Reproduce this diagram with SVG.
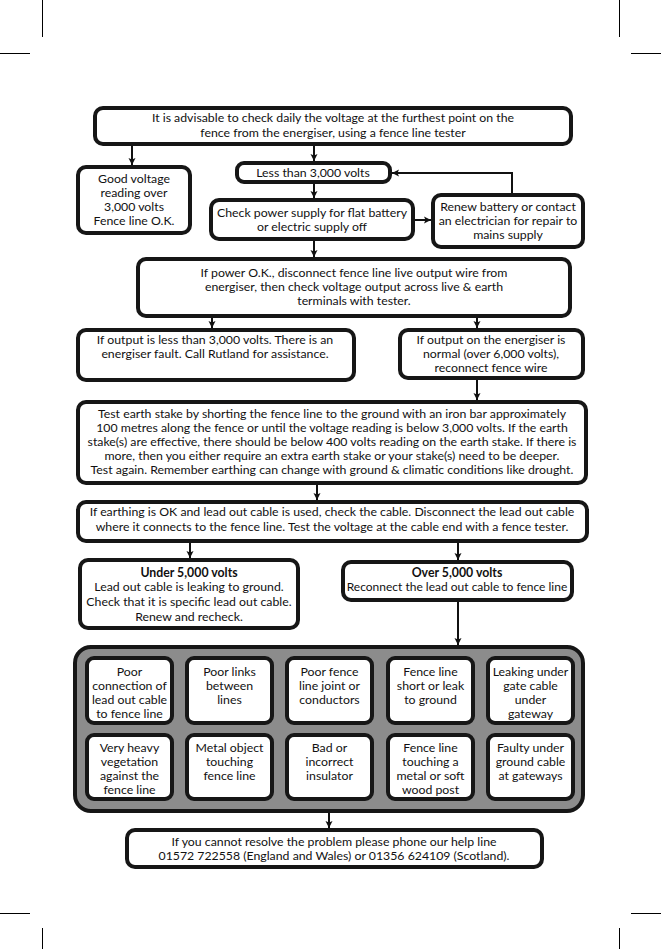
<svg xmlns="http://www.w3.org/2000/svg" width="661" height="949" viewBox="0 0 661 949">
<defs>
<marker id="ah" markerUnits="userSpaceOnUse" markerWidth="8" markerHeight="8" refX="7" refY="4" orient="auto">
<path d="M0,0.5 L7,4 L0,7.5 L1.5,4 z" fill="#111"/>
</marker>
<style>
.b{fill:#fff;stroke:#161616;stroke-width:4}
.g{fill:#8c8c8c;stroke:#161616;stroke-width:4}
.c{fill:none;stroke:#111;stroke-width:2;marker-end:url(#ah)}
.crop{stroke:#000;stroke-width:1;fill:none}
text{font-family:Lato,"Liberation Sans",sans-serif;font-size:12.3px;fill:#111;text-anchor:middle}
.bd{font-weight:bold}
.sm{font-size:12px}
</style>
</defs>
<rect width="661" height="949" fill="#fff"/>
<g id="cropmarks">
<path class="crop" d="M42.5,0 V37 M0,53.5 H30 M619.5,0 V37 M631,53.5 H661 M0,913.5 H30 M42.5,928 V949 M631,913.5 H661 M619.5,928 V949"/>
</g>
<g id="connectors">
<path class="c" d="M132,145 V165"/>
<path class="c" d="M314,145 V161"/>
<path class="c" d="M314,183 V198"/>
<path class="c" d="M413,220 H431"/>
<path class="c" d="M512,193 V173 H392"/>
<path class="c" d="M314,240 V257"/>
<path class="c" d="M212,318 V328"/>
<path class="c" d="M477,318 V328"/>
<path class="c" d="M477,380 V400"/>
<path class="c" d="M317,485 V500"/>
<path class="c" d="M190,542 V558"/>
<path class="c" d="M458,542 V560"/>
<path class="c" d="M458,602 V645"/>
<path class="c" d="M329,812 V828"/>
</g>
<g id="n1"><rect class="b" x="95" y="108" width="476" height="36" rx="8"/>
<text x="333" y="122">It is advisable to check daily the voltage at the furthest point on the</text>
<text x="333" y="137">fence from the energiser, using a fence line tester</text></g>
<g id="n2"><rect class="b" x="78" y="167" width="112" height="66" rx="8"/>
<text x="134" y="183">Good voltage</text><text x="134" y="197">reading over</text><text x="134" y="211">3,000 volts</text><text x="134" y="225">Fence line O.K.</text></g>
<g id="n3"><rect class="b" x="237" y="163" width="153" height="19" rx="7"/>
<text x="313" y="177">Less than 3,000 volts</text></g>
<g id="n4"><rect class="b" x="211" y="200" width="202" height="39" rx="8"/>
<text x="312" y="217">Check power supply for flat battery</text><text x="312" y="231">or electric supply off</text></g>
<g id="n5"><rect class="b" x="433" y="195" width="150" height="52" rx="8"/>
<text x="508" y="211">Renew battery or contact</text><text x="508" y="225">an electrician for repair to</text><text x="508" y="239">mains supply</text></g>
<g id="n6"><rect class="b" x="138" y="259" width="432" height="57" rx="8"/>
<text x="354" y="277">If power O.K., disconnect fence line live output wire from</text><text x="354" y="291">energiser, then check voltage output across live &amp; earth</text><text x="354" y="305">terminals with tester.</text></g>
<g id="n7"><rect class="b" x="78" y="330" width="276" height="50" rx="8"/>
<text x="215" y="344">If output is less than 3,000 volts. There is an</text><text x="215" y="358">energiser fault. Call Rutland for assistance.</text></g>
<g id="n8"><rect class="b" x="400" y="330" width="183" height="48" rx="8"/>
<text x="491" y="344">If output on the energiser is</text><text x="491" y="358">normal (over 6,000 volts),</text><text x="491" y="372">reconnect fence wire</text></g>
<g id="n9"><rect class="b" x="78" y="402" width="508" height="81" rx="8"/>
<text x="332" y="418">Test earth stake by shorting the fence line to the ground with an iron bar approximately</text>
<text x="332" y="432">100 metres along the fence or until the voltage reading is below 3,000 volts. If the earth</text>
<text x="332" y="446">stake(s) are effective, there should be below 400 volts reading on the earth stake. If there is</text>
<text x="332" y="460">more, then you either require an extra earth stake or your stake(s) need to be deeper.</text>
<text x="332" y="474">Test again. Remember earthing can change with ground &amp; climatic conditions like drought.</text></g>
<g id="n10"><rect class="b" x="78" y="502" width="509" height="39" rx="8"/>
<text x="332" y="516">If earthing is OK and lead out cable is used, check the cable. Disconnect the lead out cable</text>
<text x="332" y="531">where it connects to the fence line. Test the voltage at the cable end with a fence tester.</text></g>
<g id="n11"><rect class="b" x="80" y="560" width="218" height="68" rx="8"/>
<text class="bd" x="189" y="577">Under 5,000 volts</text><text x="189" y="591">Lead out cable is leaking to ground.</text><text x="189" y="606">Check that it is specific lead out cable.</text><text x="189" y="621">Renew and recheck.</text></g>
<g id="n12"><rect class="b" x="343" y="562" width="229" height="38" rx="8"/>
<text class="bd" x="457" y="577">Over 5,000 volts</text><text class="sm" x="457" y="591">Reconnect the lead out cable to fence line</text></g>
<g id="n13"><rect class="g" x="75" y="647" width="508" height="164" rx="16"/>
<rect class="b" x="87" y="658" width="85" height="65" rx="7"/>
<rect class="b" x="187" y="658" width="85" height="65" rx="7"/>
<rect class="b" x="287" y="658" width="85" height="65" rx="7"/>
<rect class="b" x="388" y="658" width="85" height="65" rx="7"/>
<rect class="b" x="488" y="658" width="85" height="65" rx="7"/>
<rect class="b" x="87" y="735" width="85" height="64" rx="7"/>
<rect class="b" x="187" y="735" width="85" height="64" rx="7"/>
<rect class="b" x="287" y="735" width="85" height="64" rx="7"/>
<rect class="b" x="388" y="735" width="85" height="64" rx="7"/>
<rect class="b" x="488" y="735" width="85" height="64" rx="7"/>
<text x="129.5" y="676">Poor</text><text x="129.5" y="690">connection of</text><text x="129.5" y="704">lead out cable</text><text x="129.5" y="718">to fence line</text>
<text x="229.5" y="676">Poor links</text><text x="229.5" y="690">between</text><text x="229.5" y="704">lines</text>
<text x="329.5" y="676">Poor fence</text><text x="329.5" y="690">line joint or</text><text x="329.5" y="704">conductors</text>
<text x="430.5" y="676">Fence line</text><text x="430.5" y="690">short or leak</text><text x="430.5" y="704">to ground</text>
<text x="530.5" y="676">Leaking under</text><text x="530.5" y="690">gate cable</text><text x="530.5" y="704">under</text><text x="530.5" y="718">gateway</text>
<text x="129.5" y="752">Very heavy</text><text x="129.5" y="766">vegetation</text><text x="129.5" y="780">against the</text><text x="129.5" y="794">fence line</text>
<text x="229.5" y="752">Metal object</text><text x="229.5" y="766">touching</text><text x="229.5" y="780">fence line</text>
<text x="329.5" y="752">Bad or</text><text x="329.5" y="766">incorrect</text><text x="329.5" y="780">insulator</text>
<text x="430.5" y="752">Fence line</text><text x="430.5" y="766">touching a</text><text x="430.5" y="780">metal or soft</text><text x="430.5" y="794">wood post</text>
<text x="530.5" y="752">Faulty under</text><text x="530.5" y="766">ground cable</text><text x="530.5" y="780">at gateways</text></g>
<g id="n14"><rect class="b" x="127" y="830" width="415" height="37" rx="8"/>
<text x="334" y="846">If you cannot resolve the problem please phone our help line</text>
<text x="334" y="860">01572 722558 (England and Wales) or 01356 624109 (Scotland).</text></g>
</svg>
